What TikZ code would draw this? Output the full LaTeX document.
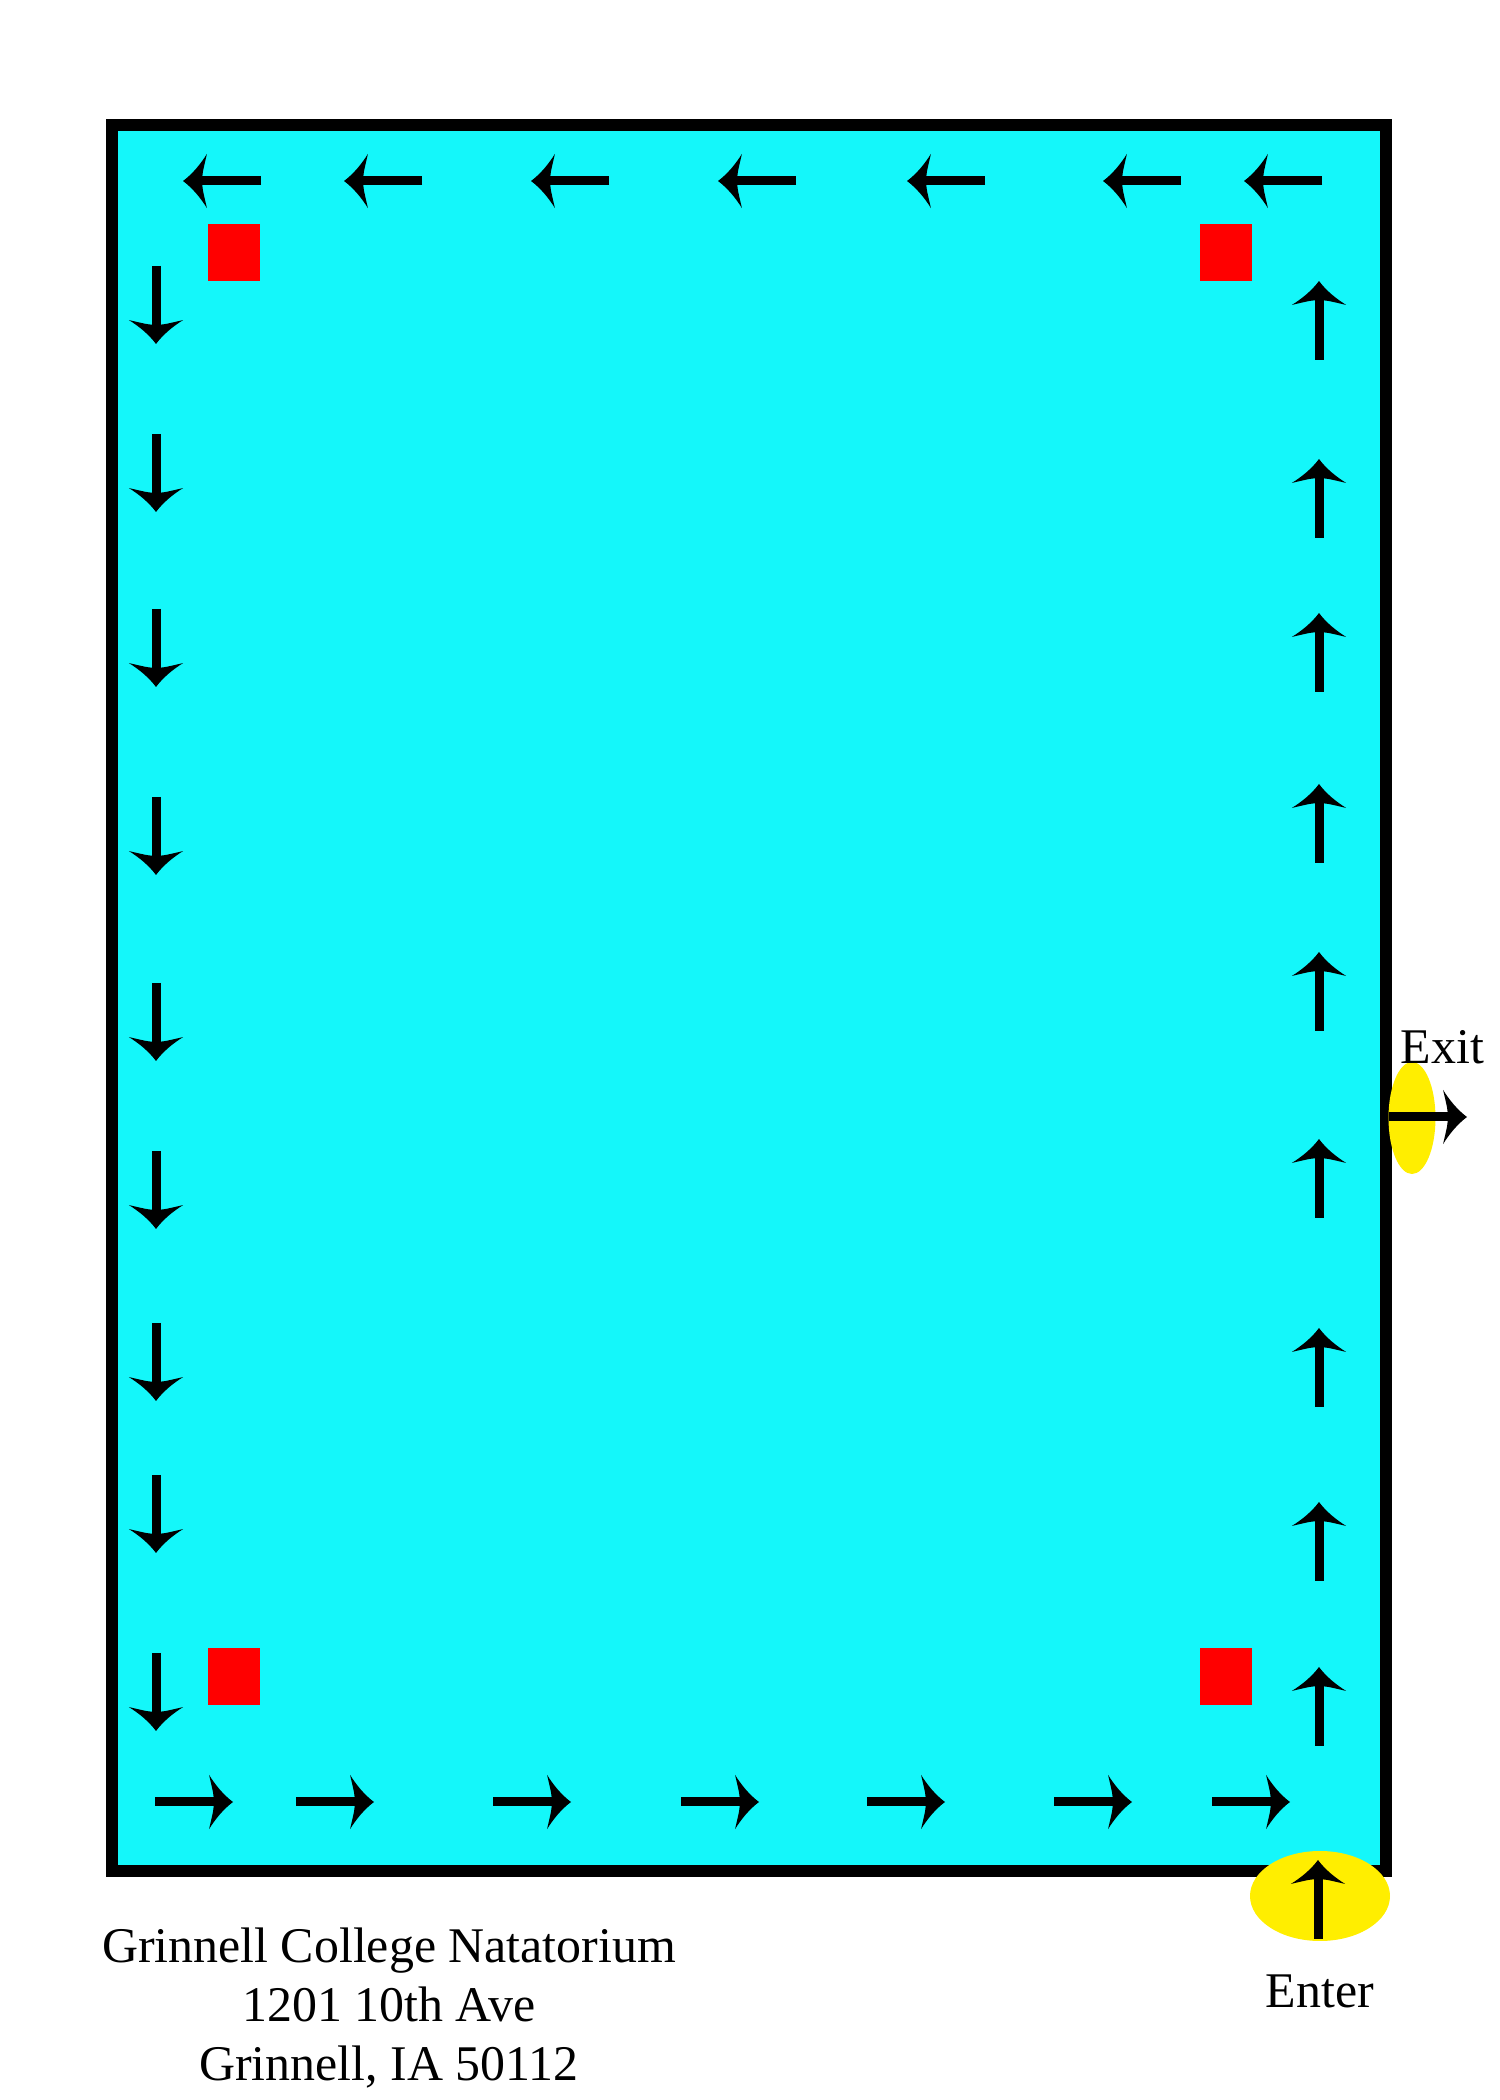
\documentclass[tikz,border=0pt]{standalone}
\usepackage{fontspec}
\setmainfont{Liberation Serif}
\usetikzlibrary{arrows.meta}
\definecolor{agua}{RGB}{20,247,250}
\definecolor{amarillo}{RGB}{255,238,0}

% punta de flecha curvada
\pgfdeclarearrow{
  name = Cuerno,
  setup code = {
    \pgfarrowssettipend{0pt}
    \pgfarrowssetlineend{-4.5pt}
    \pgfarrowssetbackend{-6.8pt}
    \pgfarrowshullpoint{0pt}{0pt}
    \pgfarrowshullpoint{-6.8pt}{7.7pt}
    \pgfarrowshullpoint{-6.8pt}{-7.7pt}
  },
  drawing code = {
    \pgfpathmoveto{\pgfqpoint{0pt}{0pt}}
    \pgfpathcurveto{\pgfqpoint{-2.7pt}{2pt}}{\pgfqpoint{-5pt}{4.8pt}}{\pgfqpoint{-6.8pt}{7.7pt}}
    \pgfpathcurveto{\pgfqpoint{-6.2pt}{5pt}}{\pgfqpoint{-5.6pt}{2.8pt}}{\pgfqpoint{-5.5pt}{1.3pt}}
    \pgfpathlineto{\pgfqpoint{-5.5pt}{-1.3pt}}
    \pgfpathcurveto{\pgfqpoint{-5.6pt}{-2.8pt}}{\pgfqpoint{-6.2pt}{-5pt}}{\pgfqpoint{-6.8pt}{-7.7pt}}
    \pgfpathcurveto{\pgfqpoint{-5pt}{-4.8pt}}{\pgfqpoint{-2.7pt}{-2pt}}{\pgfqpoint{0pt}{0pt}}
    \pgfpathclose
    \pgfusepathqfill
  }
}

\begin{document}
\begin{tikzpicture}[
    flecha/.style={black, line width=0.09cm, -{Cuerno}},
    texto/.style={font=\fontsize{14.2}{16.8}\selectfont, inner sep=0pt}
  ]
    \useasboundingbox (0,0) rectangle (15,21);

    % Piscina
    \draw[black, line width=0.12cm, fill=agua] (1.12,2.29) rectangle (13.86,19.745);

    % Cuadrados
    \fill[red] (2.08,18.19) rectangle (2.60,18.76);
    \fill[red] (12.00,18.19) rectangle (12.52,18.76);
    \fill[red] (2.08,3.95) rectangle (2.60,4.52);
    \fill[red] (12.00,3.95) rectangle (12.52,4.52);

    % Flechas alrededor de la piscina
    \foreach \x in {1.83,3.44,5.31,7.18,9.07,11.03,12.44}
        \draw[flecha] (\x+0.78,19.19) -- (\x,19.19);
    \foreach \y in {18.34,16.66,14.91,13.03,11.17,9.49,7.77,6.25,4.47}
        \draw[flecha] (1.56,\y) -- (1.56,\y-0.78);
    \foreach \x in {1.55,2.96,4.93,6.81,8.67,10.54,12.12}
        \draw[flecha] (\x,2.98) -- (\x+0.78,2.98);
    \foreach \y in {17.40,15.62,14.08,12.37,10.69,8.82,6.93,5.19,3.54}
        \draw[flecha] (13.19,\y) -- (13.19,\y+0.79);

    % Entrada y salida
    \fill[amarillo] (13.20,2.04) ellipse (0.70 and 0.45);
    \fill[amarillo] (14.12,9.82) ellipse (0.235 and 0.56);
    \draw[flecha] (13.18,1.61) -- (13.18,2.40);
    \draw[flecha] (13.89,9.83) -- (14.67,9.83);

    % Textos
    \node[texto, anchor=base west] (salida) at (14.00,10.36) {Exit};
    \node[texto, anchor=base] (entrada) at (13.20,0.93) {Enter};
    \node[texto, anchor=base, align=center] (direccion) at (3.89,0.19)
        {Grinnell College Natatorium\\1201 10th Ave\\Grinnell, IA 50112};
\end{tikzpicture}
\end{document}
